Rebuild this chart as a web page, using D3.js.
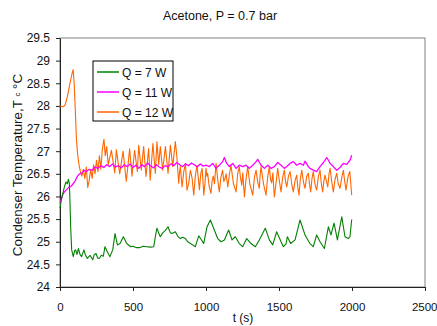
<!DOCTYPE html>
<html>
<head>
<meta charset="utf-8">
<script src="https://cdn.jsdelivr.net/npm/d3@7"></script>
<style>
  body { margin: 0; background: #fff; }
  svg text { font-family: "Liberation Sans", Arial, sans-serif; fill: #111; }
</style>
</head>
<body>
<svg id="chart" width="437" height="326"></svg>
<script>
// values
const xTicks = [0, 500, 1000, 1500, 2000, 2500];
const yTicks = [24, 24.5, 25, 25.5, 26, 26.5, 27, 27.5, 28, 28.5, 29, 29.5];
const seriesNames = ["Q = 7 W", "Q = 11 W", "Q = 12 W"];

const tGreen = [0, 11, 22, 30, 41, 50, 57, 64, 68, 73, 80, 91, 100, 107, 116, 126, 137, 148, 164, 175,
  187, 206, 224, 235, 247, 258, 269, 283, 297, 308, 324, 342, 361, 377, 393, 411, 434, 457, 484, 500,
  520, 548, 570, 594, 620, 642, 653, 664, 675, 687, 705, 722, 740, 755, 767, 790, 807, 824, 840, 859,
  875, 893, 910, 927, 950, 967, 984, 1007, 1030, 1057, 1080, 1103, 1126, 1155, 1178, 1201, 1228, 1251, 1279, 1308,
  1338, 1365, 1406, 1434, 1457, 1484, 1514, 1530, 1548, 1557, 1580, 1610, 1644, 1678, 1712, 1735, 1758, 1781, 1811, 1838,
  1856, 1877, 1900, 1930, 1952, 1975, 1986, 1998];
const vGreen = [25.74, 25.96, 26.1, 26.21, 26.32, 26.28, 26.38, 26.3, 25.92, 25.33, 24.82, 24.67, 24.8, 24.82, 24.72, 24.85, 24.72, 24.67, 24.82, 24.7,
  24.63, 24.7, 24.6, 24.72, 24.74, 24.64, 24.63, 24.7, 24.68, 24.89, 24.78, 24.67, 24.82, 25.18, 24.93, 24.96, 25.11, 24.96, 24.89, 24.9,
  24.87, 24.87, 24.9, 24.89, 24.88, 24.89, 25.11, 25.3, 25.2, 25.11, 25.2, 25.25, 25.33, 25.2, 25.18, 25.22, 25.12, 25.07, 25.1, 25.07,
  25.0, 24.96, 24.93, 24.89, 25.13, 25.05, 24.96, 25.33, 25.48, 25.26, 25.07, 25.0, 25.04, 25.26, 25.04, 25.11, 24.96, 24.89, 25.07, 24.96,
  24.89, 25.04, 25.3, 25.04, 24.93, 25.22, 25.0, 24.89, 24.95, 25.11, 24.96, 25.04, 25.48, 25.15, 24.96, 24.89, 25.15, 25.0, 24.85, 25.33,
  25.15, 25.41, 25.04, 25.55, 25.11, 25.07, 25.11, 25.49];

const tMagenta = [0, 10, 20, 30, 45, 60, 75, 90, 105, 120, 135, 150, 165, 180, 200, 220, 240, 260, 280, 300,
  320, 340, 360, 380, 400, 420, 440, 460, 480, 500, 520, 540, 560, 580, 600, 620, 640, 660, 680, 700,
  720, 740, 760, 780, 800, 820, 840, 860, 880, 900, 920, 940, 960, 980, 1000, 1023, 1046, 1069, 1091, 1114,
  1126, 1142, 1160, 1183, 1206, 1228, 1251, 1274, 1297, 1320, 1343, 1354, 1377, 1400, 1423, 1445, 1468, 1491, 1514, 1537,
  1553, 1576, 1598, 1621, 1644, 1667, 1678, 1701, 1712, 1735, 1758, 1781, 1804, 1827, 1838, 1850, 1872, 1895, 1918, 1941,
  1964, 1986, 1998];
const vMagenta = [25.85, 25.95, 26.05, 26.1, 26.15, 26.2, 26.22, 26.28, 26.35, 26.45, 26.5, 26.52, 26.58, 26.55, 26.6, 26.58, 26.65, 26.62, 26.68, 26.64,
  26.7, 26.66, 26.72, 26.65, 26.68, 26.63, 26.7, 26.66, 26.72, 26.64, 26.69, 26.62, 26.7, 26.66, 26.74, 26.68, 26.63, 26.7, 26.65, 26.62,
  26.68, 26.66, 26.72, 26.68, 26.75, 26.7, 26.66, 26.72, 26.68, 26.74, 26.7, 26.65, 26.72, 26.67, 26.69, 26.66, 26.73, 26.62, 26.69, 26.77,
  26.86, 26.73, 26.66, 26.73, 26.62, 26.69, 26.66, 26.69, 26.62, 26.69, 26.77, 26.82, 26.69, 26.62, 26.69, 26.62, 26.66, 26.75, 26.69, 26.62,
  26.66, 26.73, 26.77, 26.69, 26.73, 26.69, 26.78, 26.66, 26.62, 26.58, 26.55, 26.66, 26.75, 26.86, 26.8, 26.73, 26.66, 26.58, 26.64, 26.73,
  26.71, 26.8, 26.91];

const tOrange = [0, 20, 35, 50, 65, 75, 85, 90, 97, 105, 112, 120, 130, 140, 150, 160, 170, 180, 190, 200,
  210, 220, 230, 240, 250, 260, 270, 280, 290, 301, 310, 320, 330, 352, 375, 386, 409, 432, 454, 477,
  493, 511, 530, 539, 557, 573, 589, 607, 618, 636, 653, 664, 676, 687, 703, 722, 740, 756, 772, 790,
  800, 813, 818, 824, 830, 836, 848, 859, 865, 870, 882, 893, 905, 916, 927, 938, 946, 955, 964, 973,
  979, 985, 993, 1000, 1006, 1011, 1022, 1034, 1042, 1050, 1058, 1069, 1080, 1091, 1102, 1114, 1122, 1130, 1138, 1149,
  1160, 1171, 1188, 1206, 1217, 1228, 1236, 1245, 1252, 1263, 1274, 1286, 1300, 1320, 1332, 1343, 1354, 1365, 1371, 1377,
  1394, 1411, 1422, 1434, 1442, 1450, 1458, 1468, 1480, 1491, 1503, 1514, 1525, 1537, 1545, 1553, 1565, 1576, 1587, 1598,
  1610, 1621, 1629, 1637, 1646, 1656, 1667, 1678, 1690, 1701, 1709, 1717, 1726, 1735, 1746, 1758, 1770, 1781, 1790, 1799,
  1807, 1815, 1824, 1834, 1842, 1850, 1861, 1872, 1884, 1895, 1906, 1918, 1930, 1941, 1950, 1959, 1967, 1975, 1985, 1998];
const vOrange = [28.0, 27.98, 28.02, 28.2, 28.45, 28.6, 28.75, 28.8, 28.5, 27.9, 27.3, 26.95, 26.7, 26.55, 26.45, 26.6, 26.4, 26.65, 26.2, 26.35,
  26.6, 26.4, 26.7, 26.5, 26.8, 26.55, 26.9, 26.6, 27.05, 27.26, 26.9, 27.1, 26.7, 27.02, 26.52, 27.03, 26.5, 27.0, 26.33, 27.05,
  26.45, 27.02, 26.55, 27.13, 26.58, 27.1, 26.44, 27.06, 26.36, 27.17, 26.51, 27.21, 26.7, 27.1, 26.58, 27.1, 26.51, 27.13, 26.66, 27.21,
  26.9, 26.29, 26.5, 26.66, 26.45, 26.21, 26.55, 26.73, 26.4, 26.14, 26.3, 26.58, 26.4, 26.03, 26.45, 26.69, 26.45, 26.15, 26.5, 26.62,
  26.35, 26.03, 26.3, 26.62, 26.45, 26.51, 26.22, 26.07, 26.35, 26.45, 26.28, 26.73, 26.38, 26.1, 26.42, 26.58, 26.33, 26.4, 26.5, 26.21,
  26.48, 26.69, 26.28, 26.1, 26.5, 26.66, 26.42, 26.25, 26.52, 25.99, 26.38, 26.66, 26.28, 26.03, 26.43, 26.58, 26.32, 26.18, 26.48, 26.66,
  26.28, 26.03, 26.42, 26.66, 26.38, 26.3, 26.52, 25.99, 26.3, 26.62, 26.33, 26.1, 26.42, 26.58, 26.32, 26.21, 26.45, 26.55, 26.28, 26.1,
  26.35, 26.47, 26.2, 26.03, 26.38, 26.58, 26.33, 26.18, 26.45, 26.51, 26.28, 26.1, 26.4, 26.55, 26.28, 26.14, 26.45, 26.58, 26.28, 26.1,
  26.33, 26.47, 26.35, 26.21, 26.48, 26.62, 26.33, 26.1, 26.38, 26.51, 26.28, 26.18, 26.42, 26.58, 26.33, 26.14, 26.32, 26.47, 26.55, 26.03];

const colors = ["#008000", "#ff00ff", "#ff6600"];

const svg = d3.select("#chart");
const plotLeft = 60, plotTop = 38, plotRight = 425, plotBottom = 287;

const x = d3.scaleLinear().domain([0, 2500]).range([plotLeft, plotRight]);
const y = d3.scaleLinear().domain([24, 29.5]).range([plotBottom, plotTop]);

// plot frame
svg.append("rect")
  .attr("x", plotLeft).attr("y", plotTop)
  .attr("width", plotRight - plotLeft).attr("height", plotBottom - plotTop)
  .attr("fill", "none").attr("stroke", "#808080").attr("stroke-width", 1);

const xAxis = d3.axisBottom(x).tickValues(xTicks).tickSize(4).tickPadding(12).tickSizeOuter(0)
  .tickFormat(d => String(d));
const yAxis = d3.axisLeft(y).tickValues(yTicks).tickSize(4).tickPadding(6).tickSizeOuter(0)
  .tickFormat(d => String(d));

const gx = svg.append("g")
  .attr("transform", `translate(0, ${plotBottom})`)
  .call(xAxis);
const gy = svg.append("g")
  .attr("transform", `translate(${plotLeft}, 0)`)
  .call(yAxis);

gy.selectAll(".tick text").style("font-size", "12px");
gx.selectAll(".tick text").style("font-size", "11.5px");
// last x label sits right at the window edge
gx.selectAll(".tick text").filter(d => d === 2500).attr("text-anchor", "end").attr("dx", 12);
svg.selectAll(".tick text").style("font-family", "Liberation Sans, Arial, sans-serif");
svg.selectAll(".domain, .tick line").attr("stroke", "#222");

const line = d3.line()
  .x(d => x(d[0]))
  .y(d => y(d[1]));

const series = [
  d3.zip(tGreen, vGreen),
  d3.zip(tMagenta, vMagenta),
  d3.zip(tOrange, vOrange)
];

// orange underneath, then magenta, green on top
[2, 1, 0].forEach(i => {
  svg.append("path")
    .datum(series[i])
    .attr("d", line)
    .attr("fill", "none")
    .attr("stroke", colors[i])
    .attr("stroke-width", i === 1 ? 1.3 : 1.1)
    .attr("stroke-linejoin", "round");
});

// title
svg.append("text")
  .attr("x", 220).attr("y", 20)
  .attr("text-anchor", "middle")
  .style("font-size", "12.5px")
  .text("Acetone, P = 0.7 bar");

// axis titles
svg.append("text")
  .attr("x", 243).attr("y", 322)
  .attr("text-anchor", "middle")
  .style("font-size", "12px")
  .text("t (s)");

const yLabel = svg.append("text")
  .attr("transform", "translate(22, 165) rotate(-90)")
  .attr("text-anchor", "middle")
  .style("font-size", "13.4px");
yLabel.append("tspan").text("Condenser Temperature,T ");
yLabel.append("tspan").attr("dy", -2).style("font-size", "8px").text("c");
yLabel.append("tspan").attr("dy", 2).text(" °C");

// legend
const legend = svg.append("g").attr("transform", "translate(93, 61)");
legend.append("rect")
  .attr("width", 80).attr("height", 60)
  .attr("fill", "#fff").attr("stroke", "#000").attr("stroke-width", 1);
seriesNames.forEach((name, i) => {
  const g = legend.append("g").attr("transform", `translate(0, ${11 + i * 20})`);
  g.append("line")
    .attr("x1", 4).attr("x2", 26)
    .attr("stroke", colors[i]).attr("stroke-width", 1.5);
  g.append("text")
    .attr("x", 29).attr("y", 4.5)
    .style("font-size", "12px")
    .text(name);
});
</script>
</body>
</html>
